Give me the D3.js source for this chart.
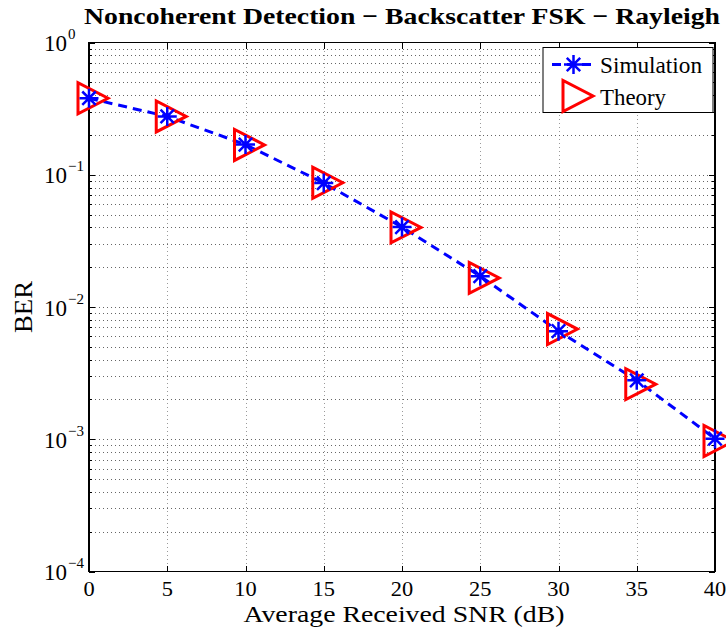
<!DOCTYPE html>
<html>
<head>
<meta charset="utf-8">
<script src="https://cdn.jsdelivr.net/npm/d3@7"></script>
<style>
  html, body { margin: 0; padding: 0; background: #fff; }
  svg { display: block; font-family: "Liberation Serif", "Times New Roman", serif; }
</style>
</head>
<body>
<svg id="chart" width="726" height="631"></svg>
<script>
// Average received SNR (dB)
const snrDb = [0, 5, 10, 15, 20, 25, 30, 35, 40];
// Simulated bit error rate
const berSimulation = [0.379, 0.276, 0.169, 0.0865, 0.0402, 0.0171, 0.00657, 0.00279, 0.00101];
// Theoretical bit error rate
const berTheory = [0.379, 0.276, 0.168, 0.0870, 0.0400, 0.0166, 0.00681, 0.00261, 0.00097];
// Axis ticks
const xTicks = [0, 5, 10, 15, 20, 25, 30, 35, 40];
const yExponents = [0, -1, -2, -3, -4];
const seriesNames = ["Simulation", "Theory"];

const svg = d3.select("#chart");
const margin = { left: 89, right: 11, top: 42.5, bottom: 59.5 };
const W = 726, H = 631;
const x0 = margin.left, x1 = W - margin.right;
const y0 = margin.top, y1 = H - margin.bottom;

const x = d3.scaleLinear().domain([0, 40]).range([x0, x1]);
const y = d3.scaleLog().domain([1e-4, 1]).range([y1, y0]);

// minor decade ticks
const minorY = [];
for (let e = -4; e < 0; e++) for (let m = 2; m <= 9; m++) minorY.push(m * Math.pow(10, e));
const majorY = yExponents.map(e => Math.pow(10, e));

// dotted grid
const grid = svg.append("g").attr("stroke-width", 1)
  .attr("stroke-dasharray", "1,3").attr("shape-rendering", "crispEdges");
grid.selectAll("line.gx").data(xTicks.slice(1, -1)).join("line").attr("class", "gx")
  .attr("x1", d => Math.round(x(d)) + 0.5).attr("x2", d => Math.round(x(d)) + 0.5)
  .attr("y1", y0).attr("y2", y1).attr("stroke", "#9a9a9a");
grid.selectAll("line.gy").data(minorY.concat(majorY.slice(1, -1))).join("line").attr("class", "gy")
  .attr("x1", x0 + 2).attr("x2", x1)
  .attr("y1", d => Math.round(y(d)) + 0.5).attr("y2", d => Math.round(y(d)) + 0.5)
  .attr("stroke", "#666");

// axis frame and inward ticks
const axes = svg.append("g").attr("stroke", "#000").attr("stroke-width", 1).attr("shape-rendering", "crispEdges");
xTicks.forEach(t => {
  const px = Math.round(x(t)) + 0.5;
  axes.append("line").attr("x1", px).attr("x2", px).attr("y1", y1).attr("y2", y1 - 6);
  axes.append("line").attr("x1", px).attr("x2", px).attr("y1", y0).attr("y2", y0 + 6);
});
majorY.forEach(v => {
  const py = Math.round(y(v)) + 0.5;
  axes.append("line").attr("x1", x0).attr("x2", x0 + 6).attr("y1", py).attr("y2", py);
  axes.append("line").attr("x1", x1).attr("x2", x1 - 6).attr("y1", py).attr("y2", py);
});
minorY.forEach(v => {
  const py = Math.round(y(v)) + 0.5;
  axes.append("line").attr("x1", x0).attr("x2", x0 + 3).attr("y1", py).attr("y2", py);
  axes.append("line").attr("x1", x1).attr("x2", x1 - 3).attr("y1", py).attr("y2", py);
});
axes.append("rect").attr("x", x0).attr("y", y0).attr("width", x1 - x0).attr("height", y1 - y0)
  .attr("fill", "none").attr("stroke-width", 1.5);

// x tick labels
svg.append("g").selectAll("text").data(xTicks).join("text")
  .attr("transform", d => `translate(${x(d)},${y1 + 24.5}) scale(1.12,1)`)
  .attr("text-anchor", "middle").attr("font-size", 20).text(d => d);

// y tick labels, 10 with exponent
const yl = svg.append("g").selectAll("text").data(yExponents).join("text")
  .attr("x", 44).attr("y", d => y(Math.pow(10, d)) + 8.5)
  .attr("font-size", 23);
yl.append("tspan").text("10");
yl.append("tspan").attr("dx", 1).attr("dy", -12).attr("font-size", 15)
  .text(d => d === 0 ? "0" : "\u2212" + (-d));

// titles
svg.append("text").attr("x", (x0 + x1) / 2).attr("y", 23.5).attr("text-anchor", "middle")
  .attr("font-size", 24).attr("font-weight", "bold")
  .attr("textLength", 636).attr("lengthAdjust", "spacingAndGlyphs")
  .text("Noncoherent Detection \u2212 Backscatter FSK \u2212 Rayleigh");
svg.append("text").attr("x", (x0 + x1) / 2 + 2).attr("y", 621.5).attr("text-anchor", "middle")
  .attr("font-size", 24).attr("textLength", 321).attr("lengthAdjust", "spacingAndGlyphs")
  .text("Average Received SNR (dB)");
svg.append("text").attr("transform", `translate(31.5,${(y0 + y1) / 2}) rotate(-90)`)
  .attr("text-anchor", "middle").attr("font-size", 25)
  .attr("textLength", 52).attr("lengthAdjust", "spacingAndGlyphs").text("BER");

// markers
function starPath(r) {
  const d = r * Math.SQRT1_2;
  return `M${-r},0L${r},0M0,${-r}L0,${r}M${-d},${-d}L${d},${d}M${-d},${d}L${d},${-d}`;
}
const triPath = "M-11,-15.5L-11,15.5L19,0Z";

const plot = svg.append("g");
const simData = snrDb.map((s, i) => [s, berSimulation[i]]);
const thData = snrDb.map((s, i) => [s, berTheory[i]]);

plot.append("path").datum(simData)
  .attr("d", d3.line().x(d => x(d[0])).y(d => y(d[1])))
  .attr("fill", "none").attr("stroke", "#0000ff").attr("stroke-width", 3)
  .attr("stroke-dasharray", "9,6");
plot.selectAll("path.tri").data(thData).join("path").attr("class", "tri")
  .attr("transform", d => `translate(${x(d[0])},${y(d[1])})`)
  .attr("d", triPath).attr("fill", "none").attr("stroke", "#ff0000").attr("stroke-width", 3);
plot.selectAll("path.star").data(simData).join("path").attr("class", "star")
  .attr("transform", d => `translate(${x(d[0])},${y(d[1])})`)
  .attr("d", starPath(9.5)).attr("fill", "none").attr("stroke", "#0000ff").attr("stroke-width", 2.5);

// legend
const lg = svg.append("g");
lg.append("rect").attr("x", 543).attr("y", 47.5).attr("width", 170).attr("height", 65)
  .attr("fill", "#fff").attr("stroke", "#000").attr("stroke-width", 1);
lg.append("line").attr("x1", 552).attr("x2", 595).attr("y1", 64.5).attr("y2", 64.5)
  .attr("stroke", "#0000ff").attr("stroke-width", 3).attr("stroke-dasharray", "9,6")
  .attr("stroke-dashoffset", 0);
lg.append("path").attr("transform", "translate(573.5,64.5)").attr("d", starPath(9.5))
  .attr("stroke", "#0000ff").attr("stroke-width", 2.5);
lg.append("path").attr("transform", "translate(574,96)").attr("d", triPath)
  .attr("fill", "none").attr("stroke", "#ff0000").attr("stroke-width", 3);
lg.append("text").attr("x", 600).attr("y", 73).attr("font-size", 23)
  .attr("textLength", 102).attr("lengthAdjust", "spacingAndGlyphs").text(seriesNames[0]);
lg.append("text").attr("x", 600).attr("y", 104.5).attr("font-size", 23)
  .attr("textLength", 66).attr("lengthAdjust", "spacingAndGlyphs").text(seriesNames[1]);
</script>
</body>
</html>
